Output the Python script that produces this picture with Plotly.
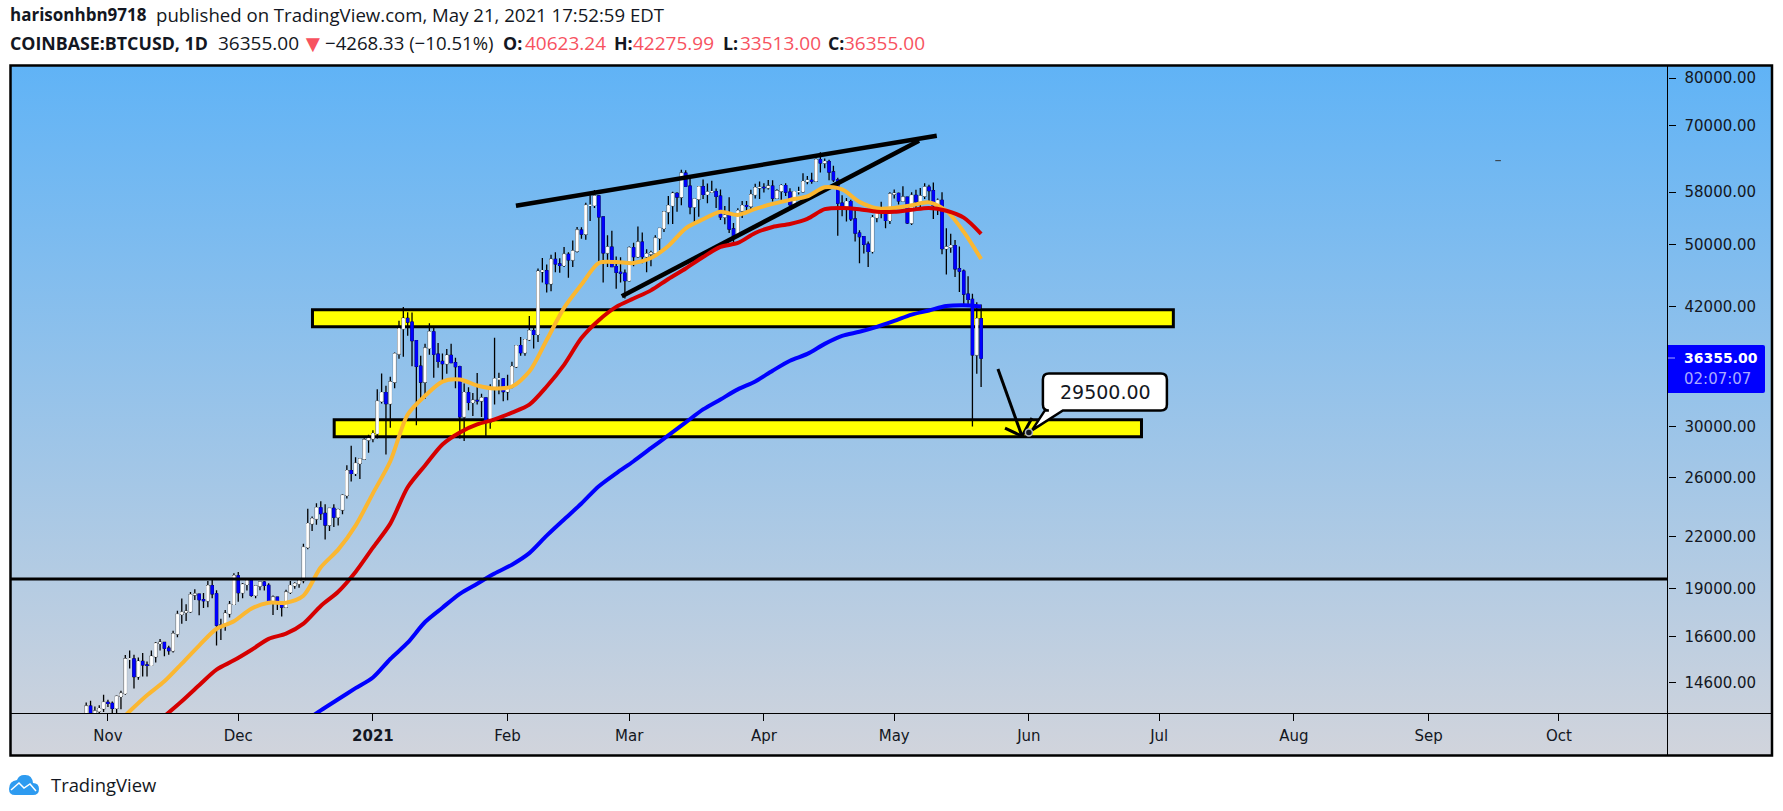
import pandas as pd
import plotly.graph_objects as go

W, H = 1783, 811

# daily candles, 27 Oct 2020 to 21 May 2021
dates = pd.date_range("2020-10-27", "2021-05-21", freq="D")
closes = [13650, 13280, 13460, 13560, 13800,
          13760, 13570, 14030, 14150, 15590, 15590, 14840, 15480, 15330, 15310, 15700, 16290, 16330, 16070, 15960,
          16730, 17680, 17780, 17820, 18680, 18710, 18420, 18370, 19160, 18730, 17150, 17140, 17720, 18180, 19700,
          18790, 19230, 19450, 18650, 19150, 19360, 19180, 18320, 18550, 18250, 18040, 18810, 19170, 19270, 19440,
          21350, 22820, 23130, 23860, 23480, 22730, 23820, 23240, 23730, 24710, 26490, 26280, 27040, 27370, 28880, 28990,
          29400, 32200, 33000, 31990, 34000, 36800, 39500, 40650, 40250, 38200, 35540, 34000, 37390, 39150, 36770,
          36020, 35800, 36630, 35900, 35500, 30830, 33000, 32100, 32280, 32250, 32510, 30400, 33430, 34300, 34300, 33100,
          33530, 35500, 37660, 36930, 38300, 39280, 38870, 46400, 46500, 44850, 48010, 47400, 47200, 48700,
          47950, 49150, 52130, 51560, 55900, 55900, 57400, 54100, 48900, 49700, 47050, 46300, 46200, 45240,
          49600, 48380, 50400, 48400, 48760, 48880, 50970, 52400, 54880, 55850, 57800, 57230, 61190, 59000, 55650,
          56900, 58900, 57650, 58030, 58100, 57350, 54100, 54350, 52300, 51300, 55050, 55850, 55780, 57600, 58740, 58800,
          58750, 58990, 57050, 58200, 59100, 58020, 56000, 58100, 58100, 59770, 59980, 59850, 63550, 62990, 63220,
          61400, 60050, 56250, 55700, 56500, 53800, 51700, 51180, 50100, 49100, 54000, 55050, 54850, 53570, 57700,
          57800, 56600, 57200, 53200, 57500, 56450, 57380, 58850, 58250, 55850, 56700, 49500, 49700, 49900, 46760,
          46450, 43550, 42900, 36700, 40620, 36355]
highs = [13790, 13860, 13640, 13690, 14100,
         13900, 13830, 14070, 14260, 15770, 15970, 15780, 15650, 15850, 15480, 15970, 16350, 16490, 16340, 16180,
         16880, 17860, 18480, 18190, 18820, 18970, 18750, 18770, 19420, 19490, 18920, 17460, 17900, 18350, 19850,
         19920, 19310, 19570, 19540, 19190, 19420, 19420, 19290, 18640, 18560, 18290, 18950, 19410, 19350, 19570,
         21560, 23800, 23290, 24170, 24300, 24100, 23840, 24100, 23800, 24790, 26900, 28420, 27500, 27400, 29020, 29300,
         29680, 33300, 34810, 33650, 34500, 36950, 40400, 42000, 41380, 41350, 38270, 36600, 37850, 40100, 39700,
         37950, 36850, 37300, 37850, 36400, 35600, 33850, 33500, 32950, 34880, 32900, 32580, 33780, 38500, 34900, 34300,
         34700, 35980, 37700, 38600, 38300, 40950, 39700, 46800, 48200, 47310, 48650, 48980, 48150, 49720,
         49000, 50650, 52600, 52550, 56300, 57500, 58350, 57550, 54200, 51400, 52050, 48400, 48300, 46650,
         49800, 50300, 52650, 51800, 49400, 49200, 51400, 52400, 54900, 57400, 58100, 58000, 61800, 61700, 60700,
         56900, 58950, 60100, 59450, 59900, 58600, 58450, 55800, 57200, 53200, 55450, 56600, 56600, 58400, 59400, 59800,
         59500, 60050, 60000, 58500, 59300, 59500, 58650, 58200, 58900, 61200, 60700, 61250, 63800, 64900, 63800,
         63550, 62500, 60400, 57500, 57050, 56800, 55400, 52100, 51200, 50500, 54400, 55500, 56450, 55200, 58000,
         58450, 57950, 59000, 57200, 58000, 58400, 58700, 59500, 59250, 59600, 57000, 58000, 52400, 51600, 50700,
         49800, 46650, 45800, 43600, 42550, 42276]
lows = [13060, 12900, 12990, 13130, 13430,
        13620, 13220, 13300, 13530, 14100, 15180, 14350, 14700, 14840, 14840, 15280, 15440, 15970, 15710, 15780,
        15880, 16570, 17220, 17350, 17760, 18400, 17630, 18000, 18030, 18500, 16190, 16440, 16880, 17520, 18180,
        18320, 18500, 18900, 18570, 18500, 18920, 18900, 18200, 17650, 17900, 17570, 18020, 18720, 19000, 19050,
        19290, 21230, 22350, 22750, 23060, 21820, 22350, 22600, 22700, 23430, 24500, 25700, 26100, 25880, 27320, 27850,
        28700, 29000, 32000, 27730, 29900, 33400, 36300, 36500, 38720, 35550, 30100, 32500, 32400, 36700, 34400,
        35400, 33900, 34800, 35900, 33400, 29000, 28800, 31400, 30900, 31900, 30800, 29200, 29800, 31900, 32850, 32200,
        32300, 33400, 35360, 36600, 36600, 38150, 37350, 38050, 45000, 43750, 43900, 46300, 46250, 47000,
        45600, 47000, 48950, 50900, 50750, 53500, 55500, 47600, 45000, 47000, 47000, 44200, 45000, 43000,
        45100, 47100, 48200, 47500, 46300, 47100, 48850, 49300, 51850, 53000, 53050, 54900, 55900, 58900, 54500,
        53200, 54150, 56900, 56250, 57900, 55500, 53650, 53000, 51700, 50400, 51300, 53950, 54700, 54900, 57000, 56900,
        57950, 58450, 56500, 57000, 56800, 57400, 55400, 55750, 57650, 57900, 59300, 59400, 59800, 61300, 62050,
        60000, 59700, 51300, 54200, 53400, 53500, 50500, 47500, 48800, 47000, 48800, 53300, 53900, 52400, 53050,
        57000, 56050, 56500, 53050, 52900, 55300, 55300, 56900, 56250, 53800, 54400, 48700, 46000, 48900, 45700,
        43800, 42100, 42200, 30000, 34800, 33513]
opens = [13070] + closes[:-1]
opens[-1] = 40623.24

ma_dates = pd.date_range("2020-11-02", "2021-05-21", freq="4D")
ma_fast = [12830, 13455, 14075, 14640, 15390, 16190, 16975, 17335, 17960, 18265, 18265, 18630, 20180, 21210,
           22690, 24850, 27200, 31030, 32700, 34040, 34230, 33660, 33380, 33570, 35010, 38260, 41880, 44730,
           47520, 47650, 47520, 48200, 49860, 52400, 53750, 54900, 54400, 55350, 56130, 56770, 57330, 58830,
           58470, 56450, 55430, 55500, 55900, 56370, 55050, 51880, 48070]
ma_mid = [None, None, None, 13270, 13840, 14480, 15130, 15530, 15990, 16500, 16740, 17220, 18100, 18840,
          19920, 21330, 22820, 25280, 26880, 28520, 29500, 30170, 30600, 31190, 31900, 33570, 35680, 38470,
          40450, 42000, 43000, 44000, 45440, 46800, 48330, 49720, 50280, 51720, 52600, 53050, 53820, 55300,
          55500, 55300, 54900, 54900, 55200, 55500, 55050, 54000, 51600]
ma_slow = [None, None, None, None, None, None, None, None, None, None, None, 13045, 13490, 13920,
           14360, 14800, 15590, 16320, 17300, 18010, 18730, 19270, 19830, 20330, 21000, 22060, 23090, 24150,
           25350, 26290, 27200, 28220, 29250, 30340, 31470, 32370, 33300, 34050, 35100, 36100, 36800, 37850,
           38710, 39160, 39710, 40380, 41100, 41580, 42100, 42200, 42050]

# drawings
upper_trend_x = ["2021-02-02 22:00", "2021-05-10 19:00"]
upper_trend_y = [55840, 68000]
lower_trend_x = ["2021-02-27 07:00", "2021-05-06 17:00"]
lower_trend_y = [43280, 67050]
hline_level = 19525
zone_top = ["2020-12-18 02:00", "2021-07-04 06:00", 39730, 41670]
zone_bottom = ["2020-12-23 02:00", "2021-06-26 22:00", 29150, 30580]
arrow_x = ["2021-05-24 21:00", "2021-05-30 10:00"]
arrow_y = [35270, 29190]
arrow_head_x = ["2021-05-26 12:00", "2021-05-30 10:00", "2021-06-01 17:00"]
arrow_head_y = [29860, 29190, 30720]
target_date = "2021-06-01"
target_price = 29500
stray_x = ["2021-09-17"]
stray_y = [63390]

price_ticks = [80000, 70000, 58000, 50000, 42000, 30000, 26000, 22000, 19000, 16600, 14600]
price_labels = ["80000.00", "70000.00", "58000.00", "50000.00", "42000.00", "30000.00", "26000.00",
                "22000.00", "19000.00", "16600.00", "14600.00"]
time_ticks = ["2020-11-01", "2020-12-01", "2021-01-01", "2021-02-01", "2021-03-01", "2021-04-01",
              "2021-05-01", "2021-06-01", "2021-07-01", "2021-08-01", "2021-09-01", "2021-10-01"]
time_labels = ["Nov", "Dec", "<b>2021</b>", "Feb", "Mar", "Apr", "May", "Jun", "Jul", "Aug", "Sep", "Oct"]

DARK = "#131722"
RED = "#F7525F"
AXIS_FONT = dict(family="DejaVu Sans", size=15, color=DARK)


def fx(x):
    return x / W


def fy(y):
    return 1 - y / H


def line_trace(x, y, color, width, smooth=False):
    line = dict(color=color, width=width)
    if smooth:
        line.update(shape="spline", smoothing=0.8)
    return go.Scatter(x=x, y=y, mode="lines", line=line,
                      xaxis="x2", yaxis="y2", hoverinfo="skip", showlegend=False)


fig = go.Figure()

# background gradient on its own hidden axes, behind the chart
fig.add_trace(go.Scatter(x=[0, 1, 1, 0, 0], y=[0, 0, 1, 1, 0], mode="lines", fill="toself",
                         line=dict(width=0), hoverinfo="skip", showlegend=False,
                         fillgradient=dict(type="vertical",
                                           colorscale=[[0, "#D1D4DC"], [1, "#60B3F6"]])))

fig.add_trace(line_trace(upper_trend_x, upper_trend_y, "black", 4.5))
fig.add_trace(line_trace(lower_trend_x, lower_trend_y, "black", 4.5))

# wicks first, then the same candles again clipped to the body so the body has no black edge
fig.add_trace(go.Candlestick(x=dates, open=opens, high=highs, low=lows, close=closes,
                             xaxis="x2", yaxis="y2", whiskerwidth=0, hoverinfo="skip", showlegend=False,
                             increasing=dict(line=dict(color="black", width=1.3), fillcolor="white"),
                             decreasing=dict(line=dict(color="black", width=1.3), fillcolor="#0000FF")))
body_top = [max(o, c) for o, c in zip(opens, closes)]
body_bot = [min(o, c) for o, c in zip(opens, closes)]
fig.add_trace(go.Candlestick(x=dates, open=opens, high=body_top, low=body_bot, close=closes,
                             xaxis="x2", yaxis="y2", whiskerwidth=0, hoverinfo="skip", showlegend=False,
                             increasing=dict(line=dict(color="white", width=1), fillcolor="white"),
                             decreasing=dict(line=dict(color="#0000FF", width=1), fillcolor="#0000FF")))

fig.add_trace(line_trace(ma_dates, ma_slow, "#0000FF", 4, smooth=True))
fig.add_trace(line_trace(ma_dates, ma_fast, "#FBB731", 4, smooth=True))
fig.add_trace(line_trace(ma_dates, ma_mid, "#D50000", 4, smooth=True))

fig.add_trace(line_trace(arrow_x, arrow_y, "black", 3))
fig.add_trace(line_trace(arrow_head_x, arrow_head_y, "black", 3))

fig.add_trace(go.Scatter(x=[target_date], y=[target_price], mode="markers",
                         marker=dict(color=DARK, size=7, line=dict(color="#B0B4BE", width=1.5)),
                         xaxis="x2", yaxis="y2", hoverinfo="skip", showlegend=False))
fig.add_trace(go.Scatter(x=stray_x, y=stray_y, mode="markers",
                         marker=dict(symbol="line-ew", size=4, line=dict(color="#333333", width=1)),
                         xaxis="x2", yaxis="y2", hoverinfo="skip", showlegend=False))

shapes = []
for z in (zone_top, zone_bottom):
    shapes.append(dict(type="rect", xref="x2", yref="y2", x0=z[0], x1=z[1], y0=z[2], y1=z[3],
                       fillcolor="#FFFF00", line=dict(color="black", width=3), layer="below"))
shapes.append(dict(type="line", xref="x2 domain", yref="y2", x0=0, x1=1, y0=hline_level, y1=hline_level,
                   line=dict(color="black", width=3), layer="above"))
# callout box with its pointer, in pixels from the target point
shapes.append(dict(type="path", xref="x2", yref="y2", xsizemode="pixel", ysizemode="pixel",
                   xanchor=target_date, yanchor=target_price,
                   path="M 20 59 L 132 59 Q 138 59 138 53 L 138 28 Q 138 22 132 22 L 34 22 L 3 2 L 16 22 "
                        "L 20 22 Q 14 22 14 28 L 14 53 Q 14 59 20 59 Z",
                   fillcolor="white", line=dict(color="black", width=2.5), layer="below"))
# pane frame
shapes.append(dict(type="rect", xref="paper", yref="paper", x0=fx(10.5), x1=fx(1772), y0=fy(755.5), y1=fy(65.5),
                   line=dict(color="black", width=2.5), layer="above"))
shapes.append(dict(type="line", xref="paper", yref="paper", x0=fx(10), x1=fx(1772), y0=fy(713.5), y1=fy(713.5),
                   line=dict(color="black", width=1), layer="above"))
shapes.append(dict(type="line", xref="paper", yref="paper", x0=fx(1667.5), x1=fx(1667.5), y0=fy(755), y1=fy(65),
                   line=dict(color="black", width=1), layer="above"))
# last price tag
shapes.append(dict(type="path", xref="paper", yref="paper", xsizemode="pixel", ysizemode="pixel",
                   xanchor=fx(1668), yanchor=fy(393),
                   path="M 0 0 L 95 0 Q 97 0 97 2 L 97 46 Q 97 48 95 48 L 0 48 Z",
                   fillcolor="#0000FF", line=dict(width=0), layer="above"))
shapes.append(dict(type="line", xref="paper", yref="paper", x0=fx(1668), x1=fx(1675), y0=fy(358), y1=fy(358),
                   line=dict(color="#AAAAFF", width=1), layer="above"))
# TradingView logo
shapes.append(dict(type="path", xref="paper", yref="paper", xsizemode="pixel", ysizemode="pixel",
                   xanchor=fx(9), yanchor=fy(795),
                   path="M 0 6 Q 0 0 6 0 L 24 0 Q 30 0 30 6 Q 30 12 24 12 Q 23 21 15 20 Q 10 20 8 15 Q 0 14 0 6 Z",
                   fillcolor="#2E9BF0", line=dict(width=0), layer="above"))
shapes.append(dict(type="path", xref="paper", yref="paper", xsizemode="pixel", ysizemode="pixel",
                   xanchor=fx(9), yanchor=fy(795),
                   path="M 2 5 L 10 12 L 15 7 L 21 11 L 27 4",
                   line=dict(color="white", width=1.5), layer="above"))


def note(x, y, text, size=17, color=DARK, family="Open Sans", anchor="left"):
    return dict(xref="paper", yref="paper", x=fx(x), y=fy(y), text=text, showarrow=False,
                xanchor=anchor, yanchor="middle", align="left", borderpad=0,
                font=dict(family=family, size=size, color=color))


ROW1, ROW2 = 15, 43
annotations = [
    note(9, ROW1, "<b>harisonhbn9718</b>"),
    note(155, ROW1, "published on TradingView.com, May 21, 2021 17:52:59 EDT", size=18.6),
    note(9, ROW2, "<b>COINBASE:BTCUSD, 1D</b>", size=17.8),
    note(217, ROW2, "36355.00", size=19),
    note(300, ROW2, "▼", size=24, color=RED),
    note(324, ROW2, "−4268.33 (−10.51%)", size=18.6),
    note(502, ROW2, "<b>O:</b>", size=17.8),
    note(524, ROW2, "40623.24", size=19, color=RED),
    note(613, ROW2, "<b>H:</b>", size=17.8),
    note(631.5, ROW2, "42275.99", size=19, color=RED),
    note(722, ROW2, "<b>L:</b>", size=17.8),
    note(739, ROW2, "33513.00", size=19, color=RED),
    note(827, ROW2, "<b>C:</b>", size=17.8),
    note(843, ROW2, "36355.00", size=19, color=RED),
    note(50, 784, "TradingView", size=18.4),
    note(1105, 392, "29500.00", size=19, family="DejaVu Sans", anchor="center"),
    note(1683, 358, "<b>36355.00</b>", size=14, color="white", family="DejaVu Sans"),
    note(1683, 379, "02:07:07", size=15, color="#AAAAFF", family="DejaVu Sans"),
]

fig.update_layout(
    width=W, height=H, margin=dict(l=0, r=0, t=0, b=0), autosize=False,
    paper_bgcolor="white", plot_bgcolor="rgba(0,0,0,0)",
    showlegend=False, hovermode=False, boxmode="overlay", boxgap=0.28,
    shapes=shapes, annotations=annotations,
    xaxis=dict(domain=[fx(10), fx(1772)], range=[0, 1], visible=False, fixedrange=True),
    yaxis=dict(domain=[fy(755), fy(65)], range=[0, 1], visible=False, fixedrange=True),
    xaxis2=dict(domain=[fx(10), fx(1667.5)], anchor="y2", type="date",
                range=["2020-10-09 11:00", "2021-10-26 00:00"],
                rangeslider=dict(visible=False), showgrid=False, zeroline=False, showline=False,
                tickmode="array", tickvals=time_ticks, ticktext=time_labels, tickfont=AXIS_FONT,
                ticks="outside", ticklen=7, tickcolor="black", tickwidth=1, ticklabelstandoff=2),
    yaxis2=dict(domain=[fy(713), fy(66)], anchor="x2", side="right", type="log",
                range=[4.1268, 4.91776], showgrid=False, zeroline=False, showline=False,
                tickmode="array", tickvals=price_ticks, ticktext=price_labels, tickfont=AXIS_FONT,
                ticks="outside", ticklen=7, tickcolor="black", tickwidth=1, ticklabelstandoff=6),
)

fig.write_html("out.html", config={"displayModeBar": False},
               post_script="document.body.style.margin='0';")
